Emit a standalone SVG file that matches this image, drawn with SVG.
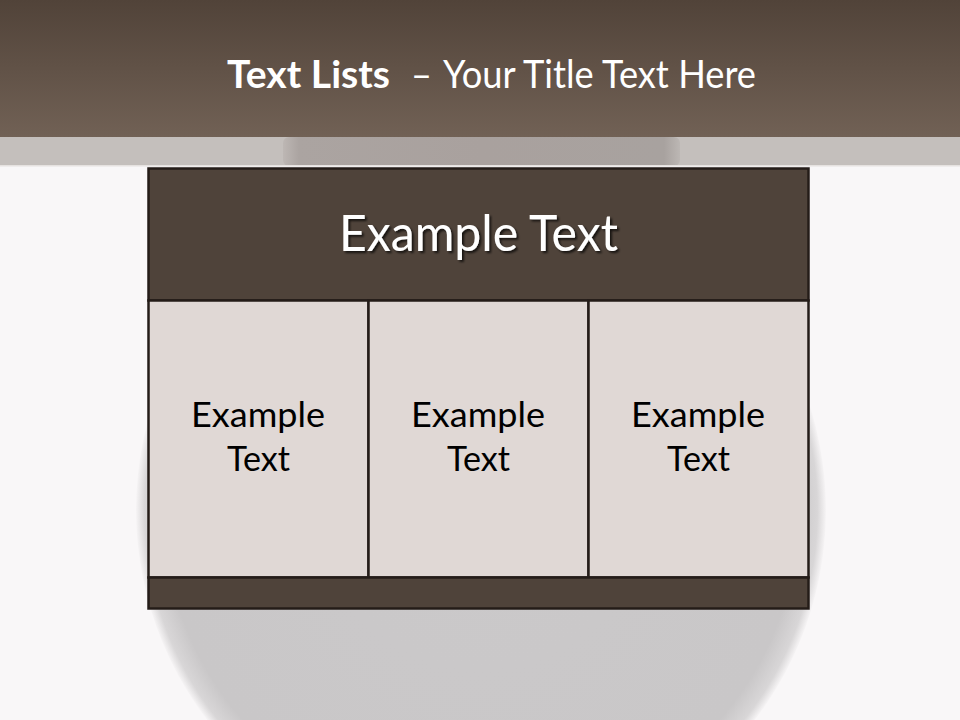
<svg xmlns="http://www.w3.org/2000/svg" width="960" height="720" viewBox="0 0 960 720">
  <defs>
    <linearGradient id="bannerGrad" x1="0" y1="0" x2="0" y2="1">
      <stop offset="0" stop-color="#514339"/>
      <stop offset="1" stop-color="#716155"/>
    </linearGradient>
    <radialGradient id="potGrad" cx="0.5" cy="0.5" r="0.5">
      <stop offset="0" stop-color="#cbc9ca"/>
      <stop offset="0.92" stop-color="#c9c7c8"/>
      <stop offset="0.975" stop-color="#d8d6d7"/>
      <stop offset="1" stop-color="#f6f4f5"/>
    </radialGradient>
    <linearGradient id="rimGrad" x1="0" y1="0" x2="1" y2="0">
      <stop offset="0" stop-color="#bdb7b4"/>
      <stop offset="0.04" stop-color="#aba4a1"/>
      <stop offset="0.5" stop-color="#a9a19e"/>
      <stop offset="0.96" stop-color="#a8a29f"/>
      <stop offset="1" stop-color="#bcb7b4"/>
    </linearGradient>
    <filter id="shadow" x="-10%" y="-20%" width="120%" height="150%">
      <feDropShadow dx="2" dy="2" stdDeviation="1.2" flood-color="#000000" flood-opacity="0.7"/>
    </filter>
    <style>
      .box { stroke: #241c18; stroke-width: 2.5; }
      .dark { fill: #4f433a; }
      .light { fill: #e0d8d5; }
      .cellText { font-family: Lato, "Open Sans", "Liberation Sans", sans-serif; font-size: 35px; fill: #000000; text-anchor: middle; }
      .headText { font-family: Lato, "Open Sans", "Liberation Sans", sans-serif; font-size: 50px; fill: #ffffff; text-anchor: middle; }
      .title { font-family: Lato, "Open Sans", "Liberation Sans", sans-serif; font-size: 38px; fill: #ffffff; }
    </style>
  </defs>

  <!-- background -->
  <rect x="0" y="0" width="960" height="720" fill="#f9f7f8"/>
  <!-- pot body -->
  <circle cx="481" cy="510" r="345" fill="url(#potGrad)"/>

  <!-- grey strip with pot rim -->
  <rect x="0" y="137" width="960" height="29" fill="#c4bfbc"/>
  <rect x="283" y="137" width="397" height="29" rx="6" fill="url(#rimGrad)"/>
  <rect x="0" y="165" width="960" height="1.5" fill="#e6e2e0"/>

  <!-- banner -->
  <g id="banner">
    <rect x="0" y="0" width="960" height="137" fill="url(#bannerGrad)"/>
    <text class="title" y="88"><tspan x="227" font-weight="bold" textLength="163" lengthAdjust="spacingAndGlyphs">Text Lists</tspan><tspan x="411" textLength="21" lengthAdjust="spacingAndGlyphs">–</tspan><tspan x="443" textLength="313" lengthAdjust="spacingAndGlyphs">Your Title Text Here</tspan></text>
  </g>

  <g id="header">
    <rect class="box dark" x="148.5" y="168.5" width="660" height="132"/>
    <text class="headText" x="478.5" y="251" filter="url(#shadow)" textLength="279" lengthAdjust="spacingAndGlyphs">Example Text</text>
  </g>

  <g id="cell1">
    <rect class="box light" x="148.5" y="300.5" width="220" height="277"/>
    <text class="cellText" x="258" y="427" textLength="134" lengthAdjust="spacingAndGlyphs">Example</text>
    <text class="cellText" x="258.5" y="471" textLength="63" lengthAdjust="spacingAndGlyphs">Text</text>
  </g>

  <g id="cell2">
    <rect class="box light" x="368.5" y="300.5" width="220" height="277"/>
    <text class="cellText" x="478" y="427" textLength="134" lengthAdjust="spacingAndGlyphs">Example</text>
    <text class="cellText" x="478.5" y="471" textLength="63" lengthAdjust="spacingAndGlyphs">Text</text>
  </g>

  <g id="cell3">
    <rect class="box light" x="588.5" y="300.5" width="220" height="277"/>
    <text class="cellText" x="698" y="427" textLength="134" lengthAdjust="spacingAndGlyphs">Example</text>
    <text class="cellText" x="698.5" y="471" textLength="63" lengthAdjust="spacingAndGlyphs">Text</text>
  </g>

  <g id="footer">
    <rect class="box dark" x="148.5" y="577.5" width="660" height="31"/>
  </g>
</svg>
